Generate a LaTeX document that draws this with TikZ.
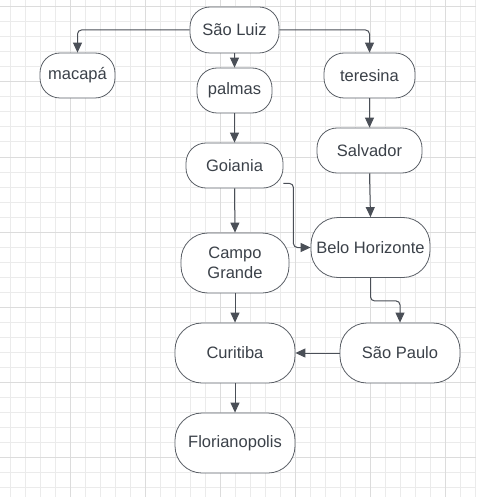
\documentclass[tikz,border=0pt]{standalone}
\usepackage{fontspec}
\setmainfont{Liberation Sans}
\usetikzlibrary{arrows.meta}
\definecolor{gridminor}{HTML}{EBEBEB}
\definecolor{gridmajor}{HTML}{DCDCDC}
\definecolor{boxline}{HTML}{5A5F66}
\definecolor{txt}{HTML}{3B4149}
\definecolor{edge}{HTML}{4A4F57}
\tikzset{
  city/.style={draw=boxline, line width=0.8pt, fill=white, text=txt, inner sep=0pt,
    align=center, font=\fontsize{16.5}{20}\selectfont, rounded corners=#1},
  city/.default=20pt,
  arr/.style={draw=edge, line width=1pt, rounded corners=4pt,
    -{Triangle[length=10pt,width=9pt]}},
}
\begin{document}
\begin{tikzpicture}[x=1pt,y=-1pt]
\useasboundingbox (0,0) rectangle (476,497);
\fill[white] (0,0) rectangle (476,497);
% grid
\foreach \i in {0,...,31} {\draw[gridminor, line width=1pt] (10+15*\i,0) -- (10+15*\i,497);}
\foreach \i in {0,...,32} {\draw[gridminor, line width=1pt] (0,7+15*\i) -- (476,7+15*\i);}
\foreach \i in {0,...,5} {\draw[gridmajor, line width=1pt] (70+75*\i,0) -- (70+75*\i,497);}
\foreach \i in {0,...,6} {\draw[gridmajor, line width=1pt] (0,7+75*\i) -- (476,7+75*\i);}
% nodes
\node[city, minimum width=89pt, minimum height=46pt] (sl) at (234.5,30) {São Luiz};
\node[city, minimum width=75pt, minimum height=45pt] (mac) at (77.5,75.5) {macapá};
\node[city, minimum width=75pt, minimum height=45pt] (pal) at (234.5,90.5) {palmas};
\node[city, minimum width=91pt, minimum height=45pt] (ter) at (369.5,75.5) {teresina};
\node[city, minimum width=97pt, minimum height=45pt] (goi) at (234.5,165.5) {Goiania};
\node[city, minimum width=105pt, minimum height=45pt] (sal) at (369.5,150.5) {Salvador};
\node[city=27pt, minimum width=119pt, minimum height=60pt] (bh) at (370.5,247.5) {Belo Horizonte};
\node[city=27pt, minimum width=108pt, minimum height=60pt] (cg) at (235,263) {Campo\\Grande};
\node[city=27pt, minimum width=120pt, minimum height=60pt] (cur) at (235,353) {Curitiba};
\node[city=27pt, minimum width=120pt, minimum height=60pt] (sp) at (400,353) {São Paulo};
\node[city=27pt, minimum width=120pt, minimum height=60pt] (flo) at (235,443) {Florianopolis};
% connectors
\draw[arr] (sl.west) -| (mac.north);
\draw[arr] (sl.east) -| (ter.north);
\draw[arr] (sl.south) -- (pal.north);
\draw[arr] (pal.south) -- (goi.north);
\draw[arr] (ter.south) -- (sal.north);
\draw[arr] (sal.south) -- (bh.north);
\draw[arr] (goi.south) -- (cg.north);
\draw[arr] ([yshift=5pt]goi.south east) -- ++(10,0) |- (bh.west);
\draw[arr] (bh.south) -- ++(0,23) -| (sp.north);
\draw[arr] (sp.west) -- (cur.east);
\draw[arr] (cg.south) -- (cur.north);
\draw[arr] (cur.south) -- (flo.north);
\end{tikzpicture}
\end{document}
